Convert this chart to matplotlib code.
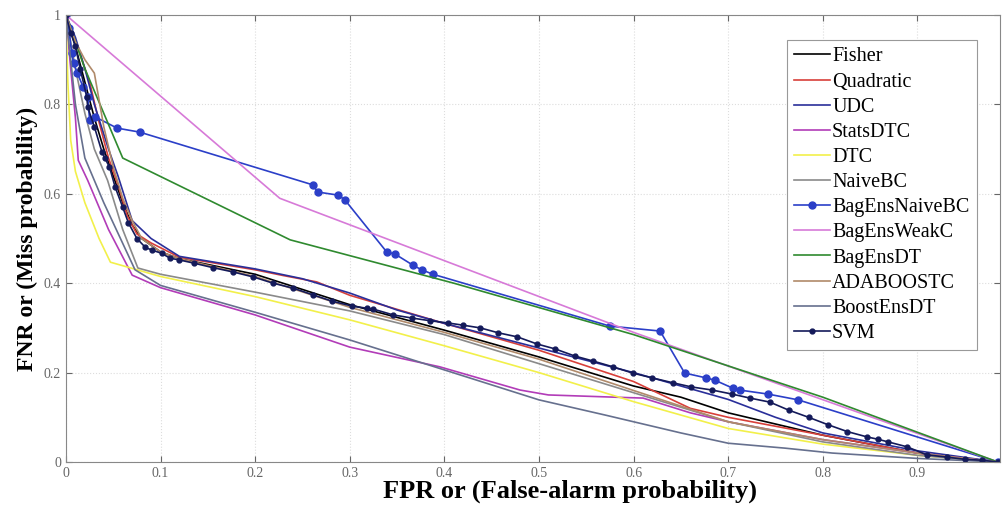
import matplotlib
matplotlib.use('Agg')
import matplotlib.pyplot as plt
from matplotlib.ticker import FuncFormatter

# ROC-like curves: FPR (x) vs FNR (y)
fisher_x = [0, 0.01, 0.02, 0.03, 0.04, 0.05, 0.06, 0.07, 0.08, 0.1, 0.12, 0.2, 0.3, 0.4, 0.5, 0.6, 0.65, 0.7, 0.8, 0.9, 0.985]
fisher_y = [1, 0.93, 0.85, 0.77, 0.7, 0.64, 0.58, 0.53, 0.5, 0.47, 0.455, 0.42, 0.352, 0.295, 0.235, 0.17, 0.145, 0.11, 0.06, 0.02, 0]

quad_x = [0, 0.012, 0.025, 0.035, 0.045, 0.055, 0.065, 0.075, 0.09, 0.12, 0.2, 0.23, 0.265, 0.3, 0.4, 0.5, 0.6, 0.66, 0.7, 0.8, 0.9, 0.985]
quad_y = [1, 0.93, 0.85, 0.76, 0.68, 0.62, 0.55, 0.51, 0.49, 0.458, 0.43, 0.417, 0.403, 0.373, 0.31, 0.25, 0.18, 0.12, 0.1, 0.06, 0.02, 0]

udc_x = [0, 0.01, 0.02, 0.03, 0.045, 0.055, 0.07, 0.09, 0.12, 0.2, 0.25, 0.3, 0.35, 0.4, 0.5, 0.6, 0.7, 0.75, 0.8, 0.9, 0.985]
udc_y = [1, 0.95, 0.88, 0.8, 0.7, 0.64, 0.54, 0.5, 0.46, 0.432, 0.41, 0.378, 0.34, 0.31, 0.255, 0.2, 0.14, 0.1, 0.065, 0.025, 0]

stats_x = [0, 0.005, 0.01, 0.013, 0.023, 0.045, 0.07, 0.1, 0.2, 0.3, 0.395, 0.48, 0.51, 0.58, 0.61, 0.66, 0.7, 0.8, 0.9, 0.985]
stats_y = [1, 0.88, 0.77, 0.675, 0.63, 0.52, 0.418, 0.39, 0.329, 0.257, 0.213, 0.161, 0.15, 0.145, 0.143, 0.11, 0.09, 0.05, 0.02, 0]

dtc_x = [0, 0.002, 0.005, 0.01, 0.02, 0.035, 0.047, 0.1, 0.2, 0.3, 0.4, 0.5, 0.6, 0.7, 0.8, 0.9, 0.985]
dtc_y = [1, 0.85, 0.72, 0.65, 0.58, 0.5, 0.447, 0.415, 0.37, 0.318, 0.26, 0.2, 0.135, 0.075, 0.04, 0.015, 0]

naive_x = [0, 0.01, 0.02, 0.03, 0.044, 0.06, 0.076, 0.1, 0.2, 0.3, 0.4, 0.5, 0.6, 0.7, 0.8, 0.9, 0.985]
naive_y = [1, 0.88, 0.78, 0.7, 0.63, 0.52, 0.434, 0.42, 0.38, 0.338, 0.285, 0.22, 0.155, 0.09, 0.045, 0.015, 0]

bagnb_x = [0, 0.003, 0.006, 0.008, 0.012, 0.018, 0.023, 0.025, 0.031, 0.054, 0.078, 0.261, 0.266, 0.288, 0.295,
           0.339, 0.348, 0.367, 0.376, 0.388, 0.575, 0.628, 0.654, 0.677, 0.686, 0.705, 0.712, 0.742, 0.774, 0.985]
bagnb_y = [1, 0.97, 0.915, 0.893, 0.87, 0.84, 0.817, 0.765, 0.772, 0.747, 0.738, 0.62, 0.604, 0.597, 0.586,
           0.47, 0.465, 0.44, 0.43, 0.42, 0.304, 0.293, 0.199, 0.188, 0.183, 0.165, 0.161, 0.152, 0.139, 0]

weak_x = [0, 0.226, 0.6, 0.985]
weak_y = [1, 0.59, 0.29, 0]

bagdt_x = [0, 0.02, 0.04, 0.06, 0.237, 0.41, 0.6, 0.8, 0.985]
bagdt_y = [1, 0.88, 0.78, 0.68, 0.497, 0.40, 0.285, 0.145, 0]

ada_x = [0, 0.01, 0.02, 0.03, 0.04, 0.05, 0.06, 0.07, 0.08, 0.1, 0.12, 0.2, 0.3, 0.4, 0.5, 0.6, 0.7, 0.8, 0.9, 0.985]
ada_y = [1, 0.94, 0.9, 0.87, 0.75, 0.66, 0.59, 0.54, 0.5, 0.47, 0.455, 0.415, 0.346, 0.29, 0.23, 0.16, 0.09, 0.05, 0.02, 0]

boost_x = [0, 0.01, 0.02, 0.04, 0.073, 0.1, 0.2, 0.3, 0.4, 0.5, 0.57, 0.6, 0.65, 0.7, 0.76, 0.81, 0.9, 0.985]
boost_y = [1, 0.8, 0.68, 0.58, 0.43, 0.395, 0.335, 0.273, 0.206, 0.139, 0.105, 0.09, 0.065, 0.042, 0.031, 0.02, 0.008, 0]

svm_x = [0, 0.005, 0.01, 0.015, 0.022, 0.023, 0.03, 0.038, 0.041, 0.046, 0.052, 0.06, 0.066, 0.075, 0.084,
         0.091, 0.101, 0.11, 0.12, 0.135, 0.155, 0.177, 0.198, 0.219, 0.24, 0.261, 0.281, 0.302, 0.318, 0.325,
         0.346, 0.366, 0.385, 0.404, 0.42, 0.438, 0.457, 0.477, 0.498, 0.517, 0.538, 0.557, 0.578, 0.599, 0.62,
         0.642, 0.661, 0.683, 0.704, 0.723, 0.744, 0.764, 0.785, 0.806, 0.826, 0.847, 0.858, 0.869, 0.889,
         0.91, 0.931, 0.95, 0.968, 0.985]
svm_y = [1, 0.96, 0.93, 0.88, 0.817, 0.794, 0.75, 0.694, 0.68, 0.66, 0.615, 0.57, 0.535, 0.5, 0.48,
         0.474, 0.467, 0.456, 0.452, 0.445, 0.435, 0.425, 0.414, 0.40, 0.389, 0.374, 0.36, 0.349, 0.344, 0.342,
         0.329, 0.322, 0.316, 0.311, 0.306, 0.30, 0.289, 0.28, 0.264, 0.253, 0.237, 0.226, 0.213, 0.199, 0.188,
         0.177, 0.168, 0.161, 0.152, 0.143, 0.134, 0.116, 0.10, 0.083, 0.068, 0.056, 0.051, 0.045, 0.034,
         0.016, 0.011, 0.006, 0.004, 0.0]

series = [
    ('Fisher', fisher_x, fisher_y, '#000000', None),
    ('Quadratic', quad_x, quad_y, '#d8403a', None),
    ('UDC', udc_x, udc_y, '#2a2f9a', None),
    ('StatsDTC', stats_x, stats_y, '#b23cb8', None),
    ('DTC', dtc_x, dtc_y, '#f2f04a', None),
    ('NaiveBC', naive_x, naive_y, '#8a8a8a', None),
    ('BagEnsNaiveBC', bagnb_x, bagnb_y, '#2b3fc8', 'o'),
    ('BagEnsWeakC', weak_x, weak_y, '#d77ad8', None),
    ('BagEnsDT', bagdt_x, bagdt_y, '#2f8a2f', None),
    ('ADABOOSTC', ada_x, ada_y, '#b08a6a', None),
    ('BoostEnsDT', boost_x, boost_y, '#66708e', None),
    ('SVM', svm_x, svm_y, '#141a5a', 'o'),
]

plt.rcParams['font.family'] = ['Liberation Serif', 'DejaVu Serif']

fig = plt.figure(figsize=(10.04, 5.11), dpi=100)
ax = fig.add_axes([0.0657, 0.0959, 0.930, 0.8747])

for label, x, y, color, marker in series:
    ms = 5 if label == 'BagEnsNaiveBC' else 3.5
    ax.plot(x, y, color=color, lw=1.2, marker=marker, markersize=ms, label=label)

ax.set_xlim(0, 0.987)
ax.set_ylim(0, 1)
ax.set_xticks([0, 0.1, 0.2, 0.3, 0.4, 0.5, 0.6, 0.7, 0.8, 0.9])
ax.set_yticks([0, 0.2, 0.4, 0.6, 0.8, 1])
fmt = FuncFormatter(lambda v, p: '%g' % round(v, 2))
ax.xaxis.set_major_formatter(fmt)
ax.yaxis.set_major_formatter(fmt)
ax.tick_params(direction='in', top=True, right=True, labelsize=10, colors='#666666', length=4)
ax.grid(True, linestyle=':', color='#dddddd', lw=0.8)
for s in ax.spines.values():
    s.set_color('#888888')

ax.set_xlabel('FPR or (False-alarm probability)', fontsize=19, fontweight='bold', labelpad=0)
ax.xaxis.label.set_x(0.54)
ax.set_ylabel('FNR or (Miss probability)', fontsize=17, fontweight='bold', labelpad=4)

leg = ax.legend(loc='upper right', fontsize=14.5, handlelength=1.8, handletextpad=0.1,
                labelspacing=0.3, borderpad=0.35, fancybox=False, framealpha=1,
                edgecolor='#999999', bbox_to_anchor=(0.986, 0.966))
leg.get_frame().set_linewidth(0.8)

fig.savefig('out.png', dpi=100)
